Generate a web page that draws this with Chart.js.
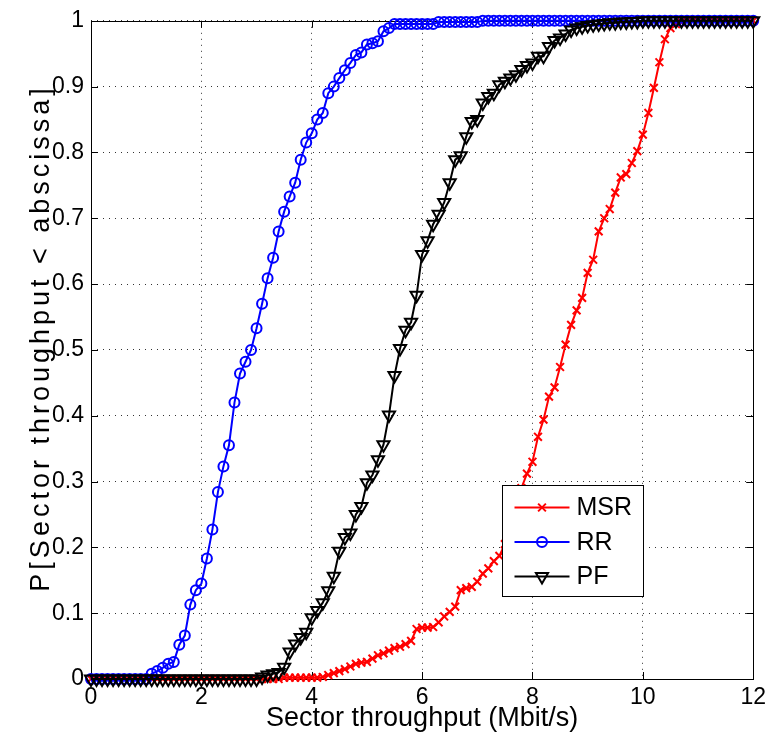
<!DOCTYPE html>
<html lang="en">
<head>
<meta charset="UTF-8">
<title>Sector throughput CDF</title>
<script src="https://cdn.jsdelivr.net/npm/chart.js"></script>
<style>
  html, body { margin: 0; padding: 0; background: #fff; }
  #wrap { width: 771px; height: 745px; }
</style>
</head>
<body>
<div id="wrap"><canvas id="cdfChart" width="771" height="745"></canvas></div>
<script>
// sector throughput grid (Mbit/s), 0.1 steps
const throughput = [
  0.0, 0.1, 0.2, 0.3, 0.4, 0.5, 0.6, 0.7, 0.8, 0.9,
  1.0, 1.1, 1.2, 1.3, 1.4, 1.5, 1.6, 1.7, 1.8, 1.9,
  2.0, 2.1, 2.2, 2.3, 2.4, 2.5, 2.6, 2.7, 2.8, 2.9,
  3.0, 3.1, 3.2, 3.3, 3.4, 3.5, 3.6, 3.7, 3.8, 3.9,
  4.0, 4.1, 4.2, 4.3, 4.4, 4.5, 4.6, 4.7, 4.8, 4.9,
  5.0, 5.1, 5.2, 5.3, 5.4, 5.5, 5.6, 5.7, 5.8, 5.9,
  6.0, 6.1, 6.2, 6.3, 6.4, 6.5, 6.6, 6.7, 6.8, 6.9,
  7.0, 7.1, 7.2, 7.3, 7.4, 7.5, 7.6, 7.7, 7.8, 7.9,
  8.0, 8.1, 8.2, 8.3, 8.4, 8.5, 8.6, 8.7, 8.8, 8.9,
  9.0, 9.1, 9.2, 9.3, 9.4, 9.5, 9.6, 9.7, 9.8, 9.9,
  10.0, 10.1, 10.2, 10.3, 10.4, 10.5, 10.6, 10.7, 10.8, 10.9,
  11.0, 11.1, 11.2, 11.3, 11.4, 11.5, 11.6, 11.7, 11.8, 11.9,
  12.0
];

const msr = [
  0, 0, 0, 0, 0, 0, 0, 0, 0, 0,
  0, 0, 0, 0, 0, 0, 0, 0, 0, 0,
  0, 0, 0, 0, 0, 0, 0, 0, 0, 0,
  0, 0, 0, 0, 0, 0.002, 0.002, 0.002, 0.002, 0.002,
  0.002, 0.002, 0.003, 0.006, 0.009, 0.012, 0.015, 0.019, 0.023, 0.025,
  0.026, 0.031, 0.036, 0.039, 0.043, 0.047, 0.049, 0.053, 0.058, 0.076,
  0.078, 0.078, 0.079, 0.086, 0.095, 0.102, 0.110, 0.135, 0.138, 0.140,
  0.148, 0.160, 0.168, 0.179, 0.187, 0.205, 0.230, 0.260, 0.290, 0.312,
  0.330, 0.368, 0.394, 0.429, 0.443, 0.474, 0.508, 0.538, 0.560, 0.579,
  0.617, 0.637, 0.680, 0.700, 0.714, 0.739, 0.762, 0.767, 0.784, 0.802,
  0.827, 0.860, 0.898, 0.937, 0.972, 0.989, 0.995, 0.998, 1, 1,
  1, 1, 1, 1, 1, 1, 1, 1, 1, 1,
  1
];

const rr = [
  0, 0, 0, 0, 0, 0, 0, 0, 0, 0,
  0, 0.008, 0.012, 0.017, 0.023, 0.026, 0.052, 0.066, 0.113, 0.135,
  0.145, 0.183, 0.227, 0.284, 0.323, 0.355, 0.420, 0.464, 0.482, 0.500,
  0.533, 0.570, 0.609, 0.640, 0.680, 0.710, 0.733, 0.754, 0.789, 0.815,
  0.829, 0.850, 0.860, 0.890, 0.900, 0.913, 0.925, 0.936, 0.948, 0.952,
  0.964, 0.966, 0.969, 0.984, 0.989, 0.995, 0.995, 0.995, 0.995, 0.995,
  0.995, 0.995, 0.995, 0.998, 0.998, 0.998, 0.998, 0.998, 0.998, 0.998,
  0.998, 1, 1, 1, 1, 1, 1, 1, 1, 1,
  1, 1, 1, 1, 1, 1, 1, 1, 1, 1,
  1, 1, 1, 1, 1, 1, 1, 1, 1, 1,
  1, 1, 1, 1, 1, 1, 1, 1, 1, 1,
  1, 1, 1, 1, 1, 1, 1, 1, 1, 1,
  1
];

const pf = [
  0, 0, 0, 0, 0, 0, 0, 0, 0, 0,
  0, 0, 0, 0, 0, 0, 0, 0, 0, 0,
  0, 0, 0, 0, 0, 0, 0, 0, 0, 0,
  0, 0.003, 0.006, 0.008, 0.010, 0.018, 0.041, 0.053, 0.063, 0.071,
  0.093, 0.104, 0.116, 0.134, 0.156, 0.194, 0.215, 0.222, 0.250, 0.262,
  0.298, 0.310, 0.333, 0.356, 0.401, 0.461, 0.502, 0.530, 0.542, 0.583,
  0.645, 0.666, 0.691, 0.706, 0.724, 0.754, 0.789, 0.795, 0.824, 0.847,
  0.850, 0.875, 0.885, 0.890, 0.903, 0.908, 0.913, 0.918, 0.926, 0.932,
  0.936, 0.946, 0.946, 0.961, 0.970, 0.974, 0.980, 0.986, 0.989, 0.991,
  0.993, 0.994, 0.995, 0.996, 0.997, 0.997, 0.998, 0.998, 0.999, 0.999,
  1, 1, 1, 1, 1, 1, 1, 1, 1, 1,
  1, 1, 1, 1, 1, 1, 1, 1, 1, 1,
  1
];

const xTicks = [0, 2, 4, 6, 8, 10, 12];
const yTicks = [0, 0.1, 0.2, 0.3, 0.4, 0.5, 0.6, 0.7, 0.8, 0.9, 1];
const seriesNames = ['MSR', 'RR', 'PF'];
const xTitle = 'Sector throughput (Mbit/s)';
const yTitle = 'P[Sector throughput < abscissa]';

const FONT = "'Liberation Sans', Arial, Helvetica, sans-serif";

const toPoints = ys => throughput.map((x, i) => ({ x, y: ys[i] }));

// matlab style box with inward ticks
const axesBox = {
  id: 'axesBox',
  beforeDatasetsDraw(chart) {
    const { ctx, chartArea: a, scales } = chart;
    const tl = 7;
    ctx.save();
    ctx.strokeStyle = '#000';
    ctx.lineWidth = 1;
    ctx.beginPath();
    xTicks.forEach(v => {
      const px = Math.round(scales.x.getPixelForValue(v)) + 0.5;
      ctx.moveTo(px, a.bottom); ctx.lineTo(px, a.bottom - tl);
      ctx.moveTo(px, a.top); ctx.lineTo(px, a.top + tl);
    });
    yTicks.forEach(v => {
      const py = Math.round(scales.y.getPixelForValue(v)) + 0.5;
      ctx.moveTo(a.left, py); ctx.lineTo(a.left + tl, py);
      ctx.moveTo(a.right, py); ctx.lineTo(a.right - tl, py);
    });
    ctx.stroke();
    ctx.strokeRect(Math.round(a.left) + 0.5, Math.round(a.top) + 0.5,
      Math.round(a.right - a.left), Math.round(a.bottom - a.top));
    ctx.restore();
  }
};

// y label is spread out in the original, so draw it with letter spacing
const yLabel = {
  id: 'yLabel',
  afterDraw(chart) {
    const { ctx, chartArea: a } = chart;
    ctx.save();
    ctx.translate(42, (a.top + a.bottom) / 2 - 12);
    ctx.rotate(-Math.PI / 2);
    ctx.font = '27px ' + FONT;
    ctx.fillStyle = '#000';
    ctx.textAlign = 'center';
    ctx.textBaseline = 'middle';
    if ('letterSpacing' in ctx) ctx.letterSpacing = '4px';
    ctx.fillText(yTitle, 0, 0);
    ctx.restore();
  }
};

function drawMarker(ctx, style, x, y, r) {
  ctx.beginPath();
  if (style === 'circle') {
    ctx.arc(x, y, r, 0, Math.PI * 2);
  } else if (style === 'crossRot') {
    const d = r * Math.SQRT1_2;
    ctx.moveTo(x - d, y - d); ctx.lineTo(x + d, y + d);
    ctx.moveTo(x + d, y - d); ctx.lineTo(x - d, y + d);
  } else {
    const h = r;
    ctx.moveTo(x, y + h);
    ctx.lineTo(x + h * 0.866, y - h * 0.5);
    ctx.lineTo(x - h * 0.866, y - h * 0.5);
    ctx.closePath();
  }
  ctx.stroke();
}

// legend box in lower right of plot area
const boxLegend = {
  id: 'boxLegend',
  afterDatasetsDraw(chart) {
    const { ctx, chartArea: a } = chart;
    const bx = a.left + 411.5, by = a.bottom - 193.5, bw = 141, bh = 111;
    ctx.save();
    ctx.fillStyle = '#fff';
    ctx.fillRect(bx, by, bw, bh);
    ctx.strokeStyle = '#000';
    ctx.lineWidth = 1;
    ctx.strokeRect(bx, by, bw, bh);
    ctx.font = '25px ' + FONT;
    ctx.textBaseline = 'middle';
    chart.data.datasets.forEach((ds, i) => {
      const cy = by + 22 + i * 34.5;
      ctx.strokeStyle = ds.borderColor;
      ctx.lineWidth = 2;
      ctx.beginPath();
      ctx.moveTo(bx + 12, cy); ctx.lineTo(bx + 67, cy);
      ctx.stroke();
      drawMarker(ctx, ds.pointStyle, bx + 39.5, cy, ds.pointRadius);
      ctx.fillStyle = '#000';
      ctx.fillText(ds.label, bx + 74, cy + 1);
    });
    ctx.restore();
  }
};

const ctx = document.getElementById('cdfChart').getContext('2d');

new Chart(ctx, {
  type: 'line',
  data: {
    datasets: [
      {
        label: seriesNames[0],
        data: toPoints(msr),
        borderColor: '#ff0000',
        backgroundColor: 'rgba(0,0,0,0)',
        borderWidth: 2,
        pointStyle: 'crossRot',
        pointRadius: 5.5,
        pointBorderWidth: 2,
        pointBackgroundColor: 'rgba(0,0,0,0)',
        clip: false,
        order: 3
      },
      {
        label: seriesNames[1],
        data: toPoints(rr),
        borderColor: '#0000ff',
        backgroundColor: 'rgba(0,0,0,0)',
        borderWidth: 2,
        pointStyle: 'circle',
        pointRadius: 5,
        pointBorderWidth: 2,
        pointBackgroundColor: 'rgba(0,0,0,0)',
        clip: false,
        order: 2
      },
      {
        label: seriesNames[2],
        data: toPoints(pf),
        borderColor: '#000000',
        backgroundColor: 'rgba(0,0,0,0)',
        borderWidth: 2,
        pointStyle: 'triangle',
        pointRotation: 180,
        pointRadius: 7,
        pointBorderWidth: 2,
        pointBackgroundColor: 'rgba(0,0,0,0)',
        clip: false,
        order: 1
      }
    ]
  },
  options: {
    responsive: false,
    animation: false,
    devicePixelRatio: 1,
    layout: { padding: { top: 17, right: 17, left: 0, bottom: 0 } },
    plugins: {
      legend: { display: false },
      tooltip: { enabled: false }
    },
    elements: { line: { tension: 0 } },
    scales: {
      x: {
        type: 'linear',
        min: 0,
        max: 12,
        afterBuildTicks: s => { s.ticks = xTicks.map(v => ({ value: v })); },
        afterFit: s => { s.height = 66; },
        ticks: {
          color: '#000',
          font: { family: FONT, size: 23 },
          padding: 5,
          maxRotation: 0,
          callback: v => String(v)
        },
        grid: { color: 'rgba(0,0,0,0.8)', lineWidth: 1, drawTicks: false },
        border: { display: false, dash: [1, 5] },
        title: {
          display: true,
          text: xTitle,
          color: '#000',
          font: { family: FONT, size: 27 },
          padding: { top: 0, bottom: 10 }
        }
      },
      y: {
        type: 'linear',
        min: 0,
        max: 1,
        afterBuildTicks: s => { s.ticks = yTicks.map(v => ({ value: v })); },
        afterFit: s => { s.width = 91; },
        ticks: {
          color: '#000',
          font: { family: FONT, size: 23 },
          padding: 7,
          callback: v => String(+v.toFixed(1))
        },
        grid: { color: 'rgba(0,0,0,0.8)', lineWidth: 1, drawTicks: false },
        border: { display: false, dash: [1, 5] },
        title: { display: false }
      }
    }
  },
  plugins: [axesBox, boxLegend, yLabel]
});
</script>
</body>
</html>
